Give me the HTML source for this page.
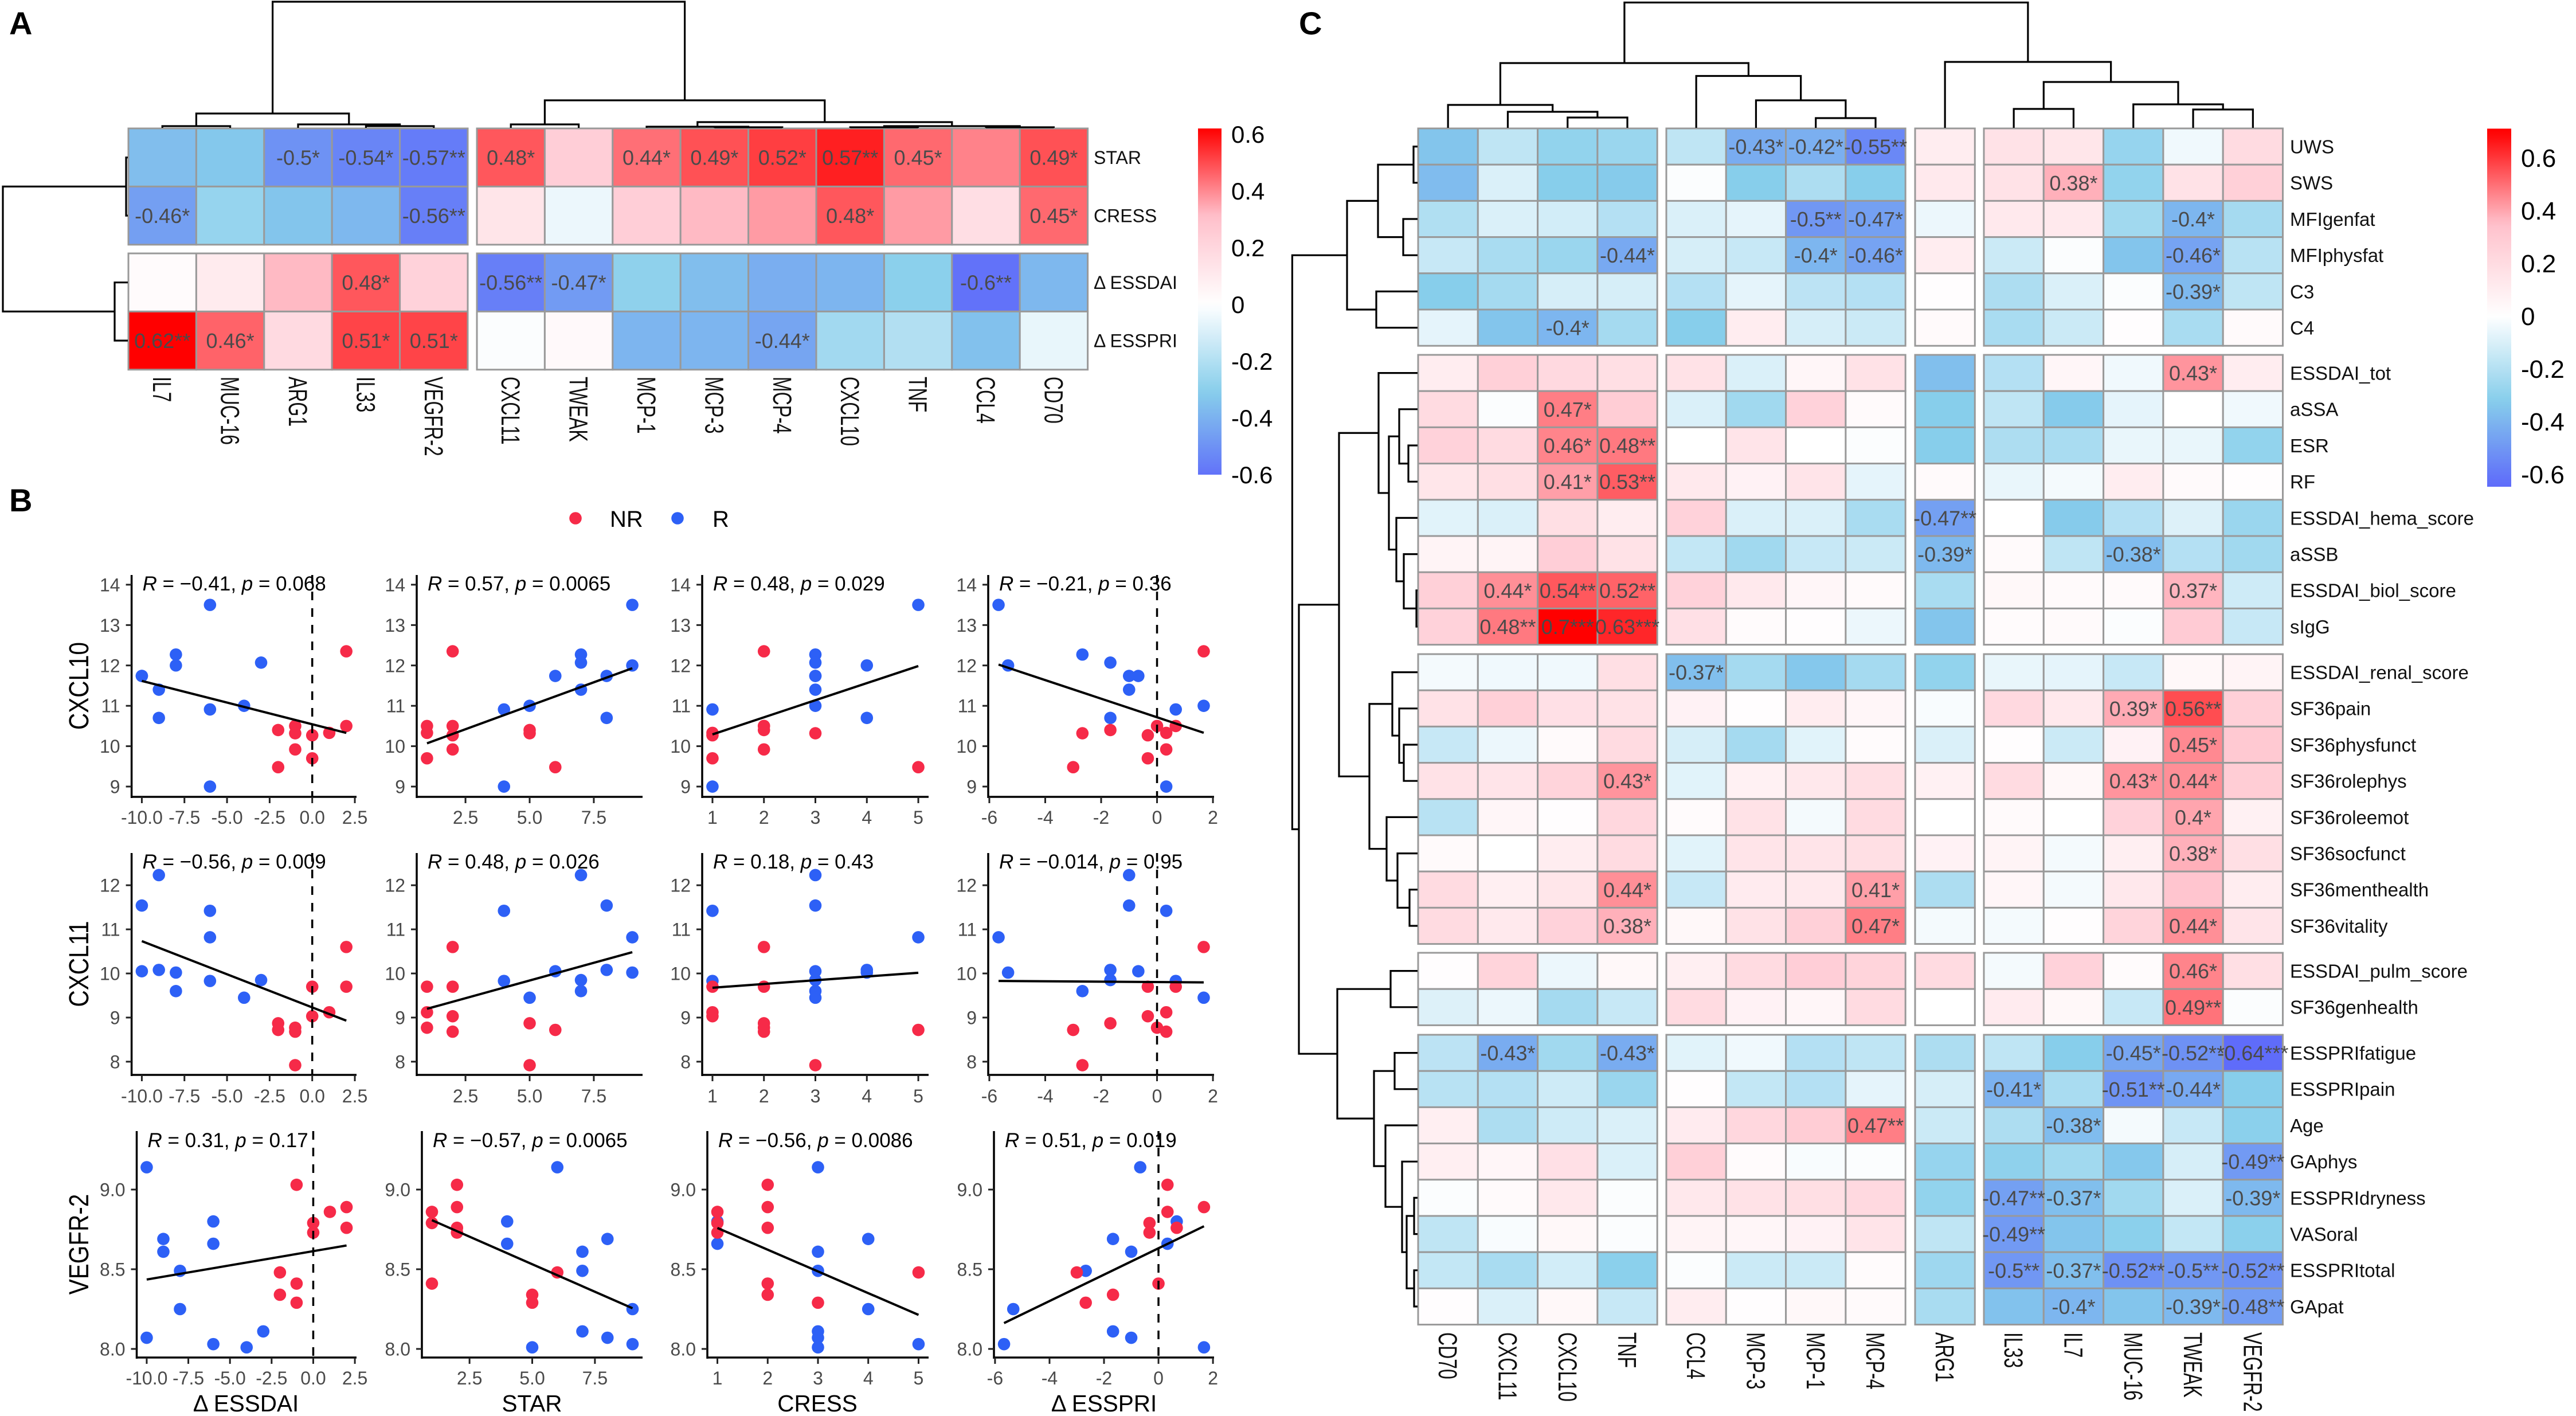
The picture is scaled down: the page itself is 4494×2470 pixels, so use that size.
<!DOCTYPE html>
<html lang="en">
<head>
<meta charset="utf-8">
<title>Correlation heatmaps and scatter plots</title>
<style>
html,body{margin:0;padding:0;background:#fff;}
svg{display:block;font-family:"Liberation Sans",Arial,sans-serif;}
</style>
</head>
<body>
<svg id="figure" xmlns="http://www.w3.org/2000/svg" width="4494" height="2470" viewBox="0 0 4494 2470">
  <rect x="0" y="0" width="4494" height="2470" fill="#ffffff"/>
  <text x="16" y="60" font-size="56" font-weight="700" fill="#000">A</text>
  <text x="16" y="892" font-size="56" font-weight="700" fill="#000">B</text>
  <text x="2266" y="60" font-size="56" font-weight="700" fill="#000">C</text>
</svg>
<script>
/* ---------- Panel A data ---------- */
const aRows = ["STAR","CRESS","\u0394 ESSDAI","\u0394 ESSPRI"];
const aCols = ["IL7","MUC-16","ARG1","IL33","VEGFR-2","CXCL11","TWEAK","MCP-1","MCP-3","MCP-4","CXCL10","TNF","CCL4","CD70"];
const aValues = [
 [-.36,-.33,-.5,-.54,-.57, .48,.24,.44,.49,.52,.57,.45,.41,.49],
 [-.46,-.27,-.34,-.38,-.56, .13,-.05,.24,.32,.37,.48,.37,.16,.45],
 [.02,.1,.32,.48,.22, -.56,-.47,-.29,-.36,-.41,-.39,-.3,-.6,-.38],
 [.62,.46,.18,.51,.51, -.01,.03,-.39,-.39,-.44,-.24,-.2,-.35,-.06]
];
const aNotes = [
 [0,2,"-0.5*"],[0,3,"-0.54*"],[0,4,"-0.57**"],[0,5,"0.48*"],[0,7,"0.44*"],[0,8,"0.49*"],[0,9,"0.52*"],[0,10,"0.57**"],[0,11,"0.45*"],[0,13,"0.49*"],
 [1,0,"-0.46*"],[1,4,"-0.56**"],[1,10,"0.48*"],[1,13,"0.45*"],
 [2,3,"0.48*"],[2,5,"-0.56**"],[2,6,"-0.47*"],[2,12,"-0.6**"],
 [3,0,"0.62**"],[3,1,"0.46*"],[3,3,"0.51*"],[3,4,"0.51*"],[3,9,"-0.44*"]
];
const aColCounts = [5,9];
const aRowCounts = [2,2];
const aColTree = [220,[25,[3,0,1],[6,2,[3,3,4]]],[48,[6,5,6],[10,[2,7,[1,8,9]],[3,[1,10,11],[1,12,13]]]]];
const aRowTree = [218,[3,0,1],[23,2,3]];
const aLegendTicks = [0.6,0.4,0.2,0,-0.2,-0.4,-0.6];

/* ---------- Panel B data (one entry per patient) ---------- */
const patientGroup = ["R","R","R","R","R","R","R","R","R","R","R","NR","NR","NR","NR","NR","NR","NR","NR","NR","NR"];
const deltaEssdai = [-6,-8,-8,-3,-10,-10,-9,-4,-6,-9,-6, 2,2,0,0,1,-1,-1,-2,-1,-2];
const starScore   = [9,7,9,7,6,8,7,5,4,8,4, 2,2,1,2,1,1,5,5,2,6];
const cressScore  = [5,3,4,3,3,3,3,3,1,4,1, 2,2,1,1,1,2,3,2,2,5];
const deltaEsspri = [-5.67,-2.67,-5.33,-1.67,-.67,-1,-1,1.67,.67,-1.67,.33, 1.67,.67,-.33,-.33,.33,0,-2.67,-1.67,.33,-3];
const cxcl10Level = [13.5,12.27,12,12.07,11.74,11.74,11.4,11,10.91,10.7,9, 12.35,10.5,9.7,10.27,10.33,10.5,10.32,10.4,9.92,9.48];
const cxcl11Level = [10.82,9.6,10.02,9.85,10.05,11.54,12.23,9.45,9.83,10.08,11.42, 10.6,9.7,9.7,9.03,9.12,8.77,7.92,8.87,8.68,8.72];
const vegfr2Level = [8.03,8.49,8.25,8.11,9.14,8.07,8.61,8.01,8.8,8.69,8.66, 8.89,8.76,8.79,8.73,8.86,8.41,8.29,8.34,9.03,8.48];
const dEssdaiTicks = [-10,-7.5,-5,-2.5,0,2.5];
const starTicks = [2.5,5,7.5];
const cressTicks = [1,2,3,4,5];
const dEsspriTicks = [-6,-4,-2,0,2];
const cxcl10Ticks = [9,10,11,12,13,14];
const cxcl11Ticks = [8,9,10,11,12];
const vegfr2Ticks = [8,8.5,9];
const rRow1 = ["\u22120.41","0.57","0.48","\u22120.21"];
const pRow1 = ["0.068","0.0065","0.029","0.36"];
const rRow2 = ["\u22120.56","0.48","0.18","\u22120.014"];
const pRow2 = ["0.009","0.026","0.43","0.95"];
const rRow3 = ["0.31","\u22120.57","\u22120.56","0.51"];
const pRow3 = ["0.17","0.0065","0.0086","0.019"];

/* ---------- Panel C data ---------- */
const cRows = ["UWS","SWS","MFIgenfat","MFIphysfat","C3","C4",
 "ESSDAI_tot","aSSA","ESR","RF","ESSDAI_hema_score","aSSB","ESSDAI_biol_score","sIgG",
 "ESSDAI_renal_score","SF36pain","SF36physfunct","SF36rolephys","SF36roleemot","SF36socfunct","SF36menthealth","SF36vitality",
 "ESSDAI_pulm_score","SF36genhealth",
 "ESSPRIfatigue","ESSPRIpain","Age","GAphys","ESSPRIdryness","VASoral","ESSPRItotal","GApat"];
const cCols = ["CD70","CXCL11","CXCL10","TNF","CCL4","MCP-3","MCP-1","MCP-4","ARG1","IL33","IL7","MUC-16","TWEAK","VEGFR-2"];
const cValues = [
 [-.35,-.17,-.29,-.27,-.17,-.43,-.42,-.55,.1,.16,.14,-.28,-.04,.2],
 [-.38,-.1,-.32,-.33,-.01,-.32,-.22,-.32,.12,.16,.38,-.29,.16,.26],
 [-.21,-.1,-.12,-.2,-.1,-.07,-.5,-.47,-.05,.12,.12,-.25,-.4,-.24],
 [-.15,-.23,-.27,-.44,-.11,-.15,-.4,-.46,.1,-.14,-.01,-.35,-.46,-.19],
 [-.32,-.24,-.11,-.11,-.2,-.07,-.18,-.2,.01,-.22,-.1,-.01,-.39,-.17],
 [-.07,-.35,-.4,-.24,-.32,.1,-.11,-.14,.03,-.23,-.14,.01,-.23,.03],
 [.1,.26,.21,.18,.16,-.1,.05,.16,-.37,-.2,.05,-.04,.43,.1],
 [.2,-.01,.47,.28,-.1,-.25,.25,.03,-.32,-.17,-.33,-.07,0,-.04],
 [.25,.2,.46,.48,0,.15,0,-.01,-.32,-.22,-.23,-.06,-.06,-.29],
 [.14,.18,.41,.53,.12,.07,.15,-.07,.03,-.06,-.03,.1,.03,.01],
 [-.08,-.1,.18,.1,.25,-.1,-.1,-.23,-.47,0,-.33,-.2,-.09,-.27],
 [.06,.06,.27,.16,-.16,-.25,-.15,-.14,-.39,.03,-.17,-.38,-.2,-.25],
 [.26,.44,.54,.52,.25,.12,.05,.03,-.23,.04,.03,.03,.37,-.13],
 [.25,.48,.7,.63,.17,.02,.01,-.05,-.35,.02,.03,-.01,.29,-.15],
 [-.03,-.04,-.04,.18,-.37,-.24,-.34,-.24,-.29,-.06,-.07,-.15,.04,.06],
 [.16,.26,.17,.16,.07,.01,.1,.05,-.02,.21,.12,.39,.56,.26],
 [-.15,-.05,.03,.2,-.11,-.24,-.08,.02,-.1,.01,-.14,.07,.45,.3],
 [.16,.15,.24,.43,-.08,.08,.13,.18,.08,.2,.04,.43,.44,.28],
 [-.19,.05,.01,.22,.02,.16,-.03,.2,0,.03,0,.25,.4,.08],
 [.03,0,.1,.2,-.08,.15,.15,.18,.07,.06,-.03,.09,.38,.18],
 [.2,.09,.14,.44,-.15,.11,.12,.41,-.22,.05,-.03,.13,.32,.1],
 [.2,.12,.25,.38,.04,.16,.26,.47,-.03,-.03,.01,.24,.44,.15],
 [.01,.24,-.05,.04,.09,.2,.27,.24,.2,-.03,.25,.02,.46,.18],
 [-.09,-.05,-.24,-.15,.2,.07,.05,.2,0,.11,.04,-.15,.49,-.01],
 [-.18,-.43,-.25,-.43,-.08,-.04,-.2,-.17,-.22,-.17,-.32,-.45,-.52,-.64],
 [-.19,-.2,-.13,-.27,.01,-.16,-.2,-.07,-.11,-.41,-.23,-.51,-.44,-.32],
 [.09,-.22,-.13,-.1,.11,.22,.28,.47,-.14,-.22,-.38,-.03,-.15,-.31],
 [.09,.05,.17,-.1,.26,.02,-.02,-.01,-.28,-.3,-.25,-.34,-.11,-.49],
 [-.01,.03,.13,-.01,.13,.16,.18,.21,-.29,-.47,-.37,-.25,-.1,-.39],
 [-.17,-.02,.04,-.01,.06,.05,.07,.15,-.17,-.49,-.35,-.31,-.16,-.31],
 [-.16,-.23,-.12,-.31,-.01,-.14,-.14,.02,-.26,-.5,-.37,-.52,-.5,-.52],
 [.01,-.1,.04,-.15,.1,.01,.04,.03,-.23,-.36,-.4,-.35,-.39,-.48]
];
const cNotes = [
 [0,5,"-0.43*"],[0,6,"-0.42*"],[0,7,"-0.55**"],[1,10,"0.38*"],[2,6,"-0.5**"],[2,7,"-0.47*"],[2,12,"-0.4*"],
 [3,3,"-0.44*"],[3,6,"-0.4*"],[3,7,"-0.46*"],[3,12,"-0.46*"],[4,12,"-0.39*"],[5,2,"-0.4*"],
 [6,12,"0.43*"],[7,2,"0.47*"],[8,2,"0.46*"],[8,3,"0.48**"],[9,2,"0.41*"],[9,3,"0.53**"],
 [10,8,"-0.47**"],[11,8,"-0.39*"],[11,11,"-0.38*"],[12,1,"0.44*"],[12,2,"0.54**"],[12,3,"0.52**"],[12,12,"0.37*"],
 [13,1,"0.48**"],[13,2,"0.7***"],[13,3,"0.63***"],
 [14,4,"-0.37*"],[15,11,"0.39*"],[15,12,"0.56**"],[16,12,"0.45*"],[17,3,"0.43*"],[17,11,"0.43*"],[17,12,"0.44*"],
 [18,12,"0.4*"],[19,12,"0.38*"],[20,3,"0.44*"],[20,7,"0.41*"],[21,3,"0.38*"],[21,7,"0.47*"],[21,12,"0.44*"],
 [22,12,"0.46*"],[23,12,"0.49**"],
 [24,1,"-0.43*"],[24,3,"-0.43*"],[24,11,"-0.45*"],[24,12,"-0.52**"],[24,13,"-0.64***"],
 [25,9,"-0.41*"],[25,11,"-0.51**"],[25,12,"-0.44*"],[26,7,"0.47**"],[26,10,"-0.38*"],[27,13,"-0.49**"],
 [28,9,"-0.47**"],[28,10,"-0.37*"],[28,13,"-0.39*"],[29,9,"-0.49**"],
 [30,9,"-0.5**"],[30,10,"-0.37*"],[30,11,"-0.52**"],[30,12,"-0.5**"],[30,13,"-0.52**"],
 [31,10,"-0.4*"],[31,12,"-0.39*"],[31,13,"-0.48**"]
];
const cColCounts = [4,4,1,5];
const cRowCounts = [6,8,8,2,8];
const cColTree = [218.6,
  [113,[40,0,[28,1,[18,2,3]]],[90.5,4,[48,5,[17,6,7]]]],
  [115,8,[80,[33,9,10],[41,11,[32,12,13]]]]];
const cRowTree = [218.6,
  [123,[69,[7,0,1],[25,2,3]],[72,4,5]],
  [207,
    [137,
      [68,6,[50,[32,7,[16,8,9]],[37,10,[24,11,[2,12,13]]]]],
      [84,[44,14,[32,15,[24,16,17]]],[54,18,[35,19,[14,20,21]]]]],
    [140,
      [47,22,23],
      [76,[40,24,25],[56,26,[27,27,[19,[6,28,29],[6,30,31]]]]]]]];
const cLegendTicks = [0.6,0.4,0.2,0,-0.2,-0.4,-0.6];

/* ---------- Helpers ---------- */
const SVGNS = "http://www.w3.org/2000/svg";
const root = document.getElementById("figure");
const TXT = "#4a4a4a";

function slug(s){ return String(s).toLowerCase().replace(/\u0394\s*/g,"delta-").replace(/[^a-z0-9]+/g,"-").replace(/^-|-$/g,""); }

function add(parent, tag, attrs, name){
  const el = document.createElementNS(SVGNS, tag);
  for (const k in attrs) el.setAttribute(k, attrs[k]);
  
  
  parent.appendChild(el);
  return el;
}
function addText(parent, attrs, content, name){
  const el = add(parent, "text", attrs, name);
  el.textContent = content;
  return el;
}
function hex(c){ return [parseInt(c.slice(1,3),16),parseInt(c.slice(3,5),16),parseInt(c.slice(5,7),16)]; }
const rampColors = ["#5f6cfa","#87ceeb","#ffffff","#ffc0cb","#ff0000"];
function rampColor(v, lo, hi){
  const stops = [lo, lo/2, 0, hi/2, hi];
  const x = Math.max(lo, Math.min(hi, v));
  let i = 0;
  while (i < 3 && x > stops[i+1]) i++;
  const t = (x - stops[i])/(stops[i+1]-stops[i]);
  const a = hex(rampColors[i]), b = hex(rampColors[i+1]);
  return "rgb("+[0,1,2].map(j=>Math.round(a[j]+(b[j]-a[j])*t)).join(",")+")";
}
function centers(starts, counts, size){
  const out = [];
  starts.forEach((s,b)=>{ for(let i=0;i<counts[b];i++) out.push(s + size*(i+.5)); });
  return out;
}
function drawTree(g, node, leafPos, base, vertical, name){
  if (typeof node === "number") return {p:leafPos[node], h:0};
  const a = drawTree(g, node[1], leafPos, base, vertical, name);
  const b = drawTree(g, node[2], leafPos, base, vertical, name);
  const h = node[0];
  const d = vertical
    ? "M"+a.p+" "+(base-a.h)+"V"+(base-h)+"H"+b.p+"V"+(base-b.h)
    : "M"+(base-a.h)+" "+a.p+"H"+(base-h)+"V"+b.p+"H"+(base-b.h);
  add(g, "path", {d:d, fill:"none", stroke:"#000", "stroke-width":3.2, "stroke-linejoin":"miter"}, name+"-branch");
  return {p:(a.p+b.p)/2, h:h};
}

function heatmap(cfg){
  const g = add(root, "g", {}, cfg.id+"-heatmap");
  const xs = centers(cfg.colStarts, cfg.colCounts, cfg.cw);
  const ys = centers(cfg.rowStarts, cfg.rowCounts, cfg.ch);
  cfg.values.forEach((row,r)=>{
    row.forEach((v,c)=>{
      const cell = add(g, "rect", {x:xs[c]-cfg.cw/2, y:ys[r]-cfg.ch/2, width:cfg.cw, height:cfg.ch,
        fill:rampColor(v,cfg.lo,cfg.hi), stroke:"#999999", "stroke-width":cfg.border}, "cell-"+slug(cfg.rows[r])+"-"+slug(cfg.cols[c]));
    });
  });
  cfg.notes.forEach(n=>{
    addText(g, {x:xs[n[1]], y:ys[n[0]]+cfg.noteSize*.36, "font-size":cfg.noteSize, fill:TXT, "text-anchor":"middle"},
      n[2], "cell-value-"+slug(cfg.rows[n[0]])+"-"+slug(cfg.cols[n[1]]));
  });
  cfg.rows.forEach((t,r)=>{
    addText(g, {x:cfg.rowLabelX, y:ys[r]+cfg.rowSize*.36, "font-size":cfg.rowSize, fill:"#111"}, t, "row-label-"+slug(t));
  });
  cfg.cols.forEach((t,c)=>{
    addText(g, {transform:"translate("+(xs[c]-16)+","+cfg.colLabelY+") rotate(90) scale(1,1.42)", "font-size":32, fill:"#111"}, t, "column-label-"+slug(t));
  });
  const ct = add(g, "g", {}, cfg.id+"-column-dendrogram");
  drawTree(ct, cfg.colTree, xs, cfg.rowStarts[0]-1, true, cfg.id+"-column-dendrogram");
  const rt = add(g, "g", {}, cfg.id+"-row-dendrogram");
  drawTree(rt, cfg.rowTree, ys, cfg.colStarts[0]-1, false, cfg.id+"-row-dendrogram");

  /* colour legend */
  const defs = add(root, "defs", {}, cfg.id+"-legend-defs");
  const gr = add(defs, "linearGradient", {id:cfg.id+"-grad", x1:0, y1:0, x2:0, y2:1}, cfg.id+"-legend-gradient");
  const n = 40;
  for (let i=0;i<=n;i++){
    const v = cfg.legHi + (cfg.legLo-cfg.legHi)*i/n;
    add(gr, "stop", {offset:(i/n), "stop-color":rampColor(v,cfg.lo,cfg.hi)}, "legend-stop");
  }
  const yOf = v => cfg.legZero - v*cfg.legScale;
  add(g, "rect", {x:cfg.legX, y:yOf(cfg.legHi), width:cfg.legW, height:yOf(cfg.legLo)-yOf(cfg.legHi), fill:"url(#"+cfg.id+"-grad)"}, cfg.id+"-color-legend-bar");
  cfg.legTicks.forEach(v=>{
    addText(g, {x:cfg.legX+cfg.legW+cfg.legGap, y:yOf(v)+cfg.legSize*.36, "font-size":cfg.legSize, fill:"#000"}, String(v), cfg.id+"-legend-label-"+slug(v));
  });
}

heatmap({id:"panel-a", rows:aRows, cols:aCols, values:aValues, notes:aNotes,
  colStarts:[224,832], colCounts:aColCounts, cw:118.4, rowStarts:[224,442], rowCounts:aRowCounts, ch:101.4,
  lo:-.62, hi:.62, border:3, noteSize:36, rowSize:32, rowLabelX:1908, colLabelY:657,
  colTree:aColTree, rowTree:aRowTree,
  legX:2090, legW:41, legZero:531, legScale:495, legHi:.62, legLo:-.6, legTicks:aLegendTicks, legSize:42, legGap:17});

heatmap({id:"panel-c", rows:cRows, cols:cCols, values:cValues, notes:cNotes,
  colStarts:[2474,2907,3341,3461], colCounts:cColCounts, cw:104.3, rowStarts:[224,619,1141,1662,1805], rowCounts:cRowCounts, ch:63.2,
  lo:-.64, hi:.7, border:3, noteSize:36, rowSize:33, rowLabelX:3995, colLabelY:2324,
  colTree:cColTree, rowTree:cRowTree,
  legX:4339, legW:42, legZero:551, legScale:460, legHi:.71, legLo:-.648, legTicks:cLegendTicks, legSize:44, legGap:17});

/* ---------- Panel B ---------- */
const pb = add(root, "g", {}, "panel-b-scatter-grid");
const groupColor = {NR:"#f62a48", R:"#2d60f6"};
const xVars = [
 {id:"delta-essdai", data:deltaEssdai, dom:[-10.6,2.6], ticks:dEssdaiTicks, fmt:1, vline:true, title:"\u0394 ESSDAI", cx:429},
 {id:"star", data:starScore, dom:[.6,9.4], ticks:starTicks, fmt:1, vline:false, title:"STAR", cx:928},
 {id:"cress", data:cressScore, dom:[.8,5.2], ticks:cressTicks, fmt:0, vline:false, title:"CRESS", cx:1426},
 {id:"delta-esspri", data:deltaEsspri, dom:[-6.04,2.04], ticks:dEsspriTicks, fmt:0, vline:true, title:"\u0394 ESSPRI", cx:1926}
];
const yVars = [
 {id:"cxcl10", title:"CXCL10", data:cxcl10Level, dom:[8.745,14.24], ticks:cxcl10Ticks, fmt:0, top:1003, bottom:1390, lefts:[229.6,727,1225,1724], tickY:1437, rs:rRow1, ps:pRow1, base:1030, textDx:19},
 {id:"cxcl11", title:"CXCL11", data:cxcl11Level, dom:[7.7,12.73], ticks:cxcl11Ticks, fmt:0, top:1488, bottom:1875, lefts:[229.6,727,1225,1724], tickY:1923, rs:rRow2, ps:pRow2, base:1515, textDx:19},
 {id:"vegfr-2", title:"VEGFR-2", data:vegfr2Level, dom:[7.946,9.367], ticks:vegfr2Ticks, fmt:1, top:1973, bottom:2368, lefts:[238.5,736,1234,1734], tickY:2415, rs:rRow3, ps:pRow3, base:2001, textDx:19}
];
const panelRights = [622,1121,1620,2118];

function linearFit(xs, ys){
  const n = xs.length;
  const mx = xs.reduce((a,b)=>a+b,0)/n, my = ys.reduce((a,b)=>a+b,0)/n;
  let sxy = 0, sxx = 0;
  xs.forEach((x,i)=>{ sxy += (x-mx)*(ys[i]-my); sxx += (x-mx)*(x-mx); });
  const b = sxy/sxx;
  return {a:my-b*mx, b:b};
}

yVars.forEach(yv=>{
  const yScale = v => yv.bottom - (v-yv.dom[0])/(yv.dom[1]-yv.dom[0])*(yv.bottom-yv.top);
  const midY = (yv.top+yv.bottom)/2;
  addText(pb, {transform:"translate(154,"+midY+") rotate(-90) scale(1,1.2)", "font-size":40.5, "text-anchor":"middle", fill:"#000"}, yv.title, "y-axis-title-"+yv.id);
  xVars.forEach((xv,ci)=>{
    const pname = "scatter-"+yv.id+"-"+xv.id;
    const g = add(pb, "g", {}, pname);
    const left = yv.lefts[ci], right = panelRights[ci];
    const xScale = v => left + (v-xv.dom[0])/(xv.dom[1]-xv.dom[0])*(right-left);

    xv.data.forEach((x,i)=>{
      add(g, "circle", {cx:xScale(x), cy:yScale(yv.data[i]), r:10.8, fill:groupColor[patientGroup[i]]}, "point-"+patientGroup[i].toLowerCase());
    });
    const fit = linearFit(xv.data, yv.data);
    const xMin = Math.min.apply(null, xv.data), xMax = Math.max.apply(null, xv.data);
    add(g, "line", {x1:xScale(xMin), y1:yScale(fit.a+fit.b*xMin), x2:xScale(xMax), y2:yScale(fit.a+fit.b*xMax), stroke:"#000", "stroke-width":4}, "regression-line");

    const t = add(g, "text", {x:left+yv.textDx, y:yv.base, "font-size":35, fill:"#000"}, "correlation-annotation");
    const s1 = add(t, "tspan", {"font-style":"italic"}, "annotation-r-symbol");
    s1.textContent = "R";
    const s2 = add(t, "tspan", {}, "annotation-r-value");
    s2.textContent = " = " + yv.rs[ci] + ", ";
    const s3 = add(t, "tspan", {"font-style":"italic"}, "annotation-p-symbol");
    s3.textContent = "p";
    const s4 = add(t, "tspan", {}, "annotation-p-value");
    s4.textContent = " = " + yv.ps[ci];

    if (xv.vline){
      add(g, "line", {x1:xScale(0), y1:yv.top, x2:xScale(0), y2:yv.bottom, stroke:"#000", "stroke-width":3.5, "stroke-dasharray":"15,14"}, "zero-reference-line");
    }
    add(g, "line", {x1:left, y1:yv.top, x2:left, y2:yv.bottom+2, stroke:"#000", "stroke-width":3.5}, "y-axis-line");
    add(g, "line", {x1:left, y1:yv.bottom, x2:right, y2:yv.bottom, stroke:"#000", "stroke-width":3.5}, "x-axis-line");
    yv.ticks.forEach(v=>{
      add(g, "line", {x1:left-10, y1:yScale(v), x2:left, y2:yScale(v), stroke:"#222", "stroke-width":3}, "y-tick");
      addText(g, {x:left-20, y:yScale(v)+11.5, "font-size":32, fill:TXT, "text-anchor":"end"}, v.toFixed(yv.fmt), "y-tick-label");
    });
    xv.ticks.forEach(v=>{
      add(g, "line", {x1:xScale(v), y1:yv.bottom, x2:xScale(v), y2:yv.bottom+11, stroke:"#222", "stroke-width":3}, "x-tick");
      addText(g, {x:xScale(v), y:yv.tickY, "font-size":32, fill:TXT, "text-anchor":"middle"}, v.toFixed(xv.fmt), "x-tick-label");
    });
  });
});
xVars.forEach(xv=>{
  addText(pb, {x:xv.cx, y:2462, "font-size":40.5, "text-anchor":"middle", fill:"#000"}, xv.title, "x-axis-title-"+xv.id);
});
const lg = add(pb, "g", {}, "group-legend");
add(lg, "circle", {cx:1004, cy:904, r:10.8, fill:groupColor.NR}, "legend-marker-nr");
addText(lg, {x:1064, y:919, "font-size":40, fill:"#000"}, "NR", "legend-label-nr");
add(lg, "circle", {cx:1182, cy:904, r:10.8, fill:groupColor.R}, "legend-marker-r");
addText(lg, {x:1243, y:919, "font-size":40, fill:"#000"}, "R", "legend-label-r");
</script>
</body>
</html>
